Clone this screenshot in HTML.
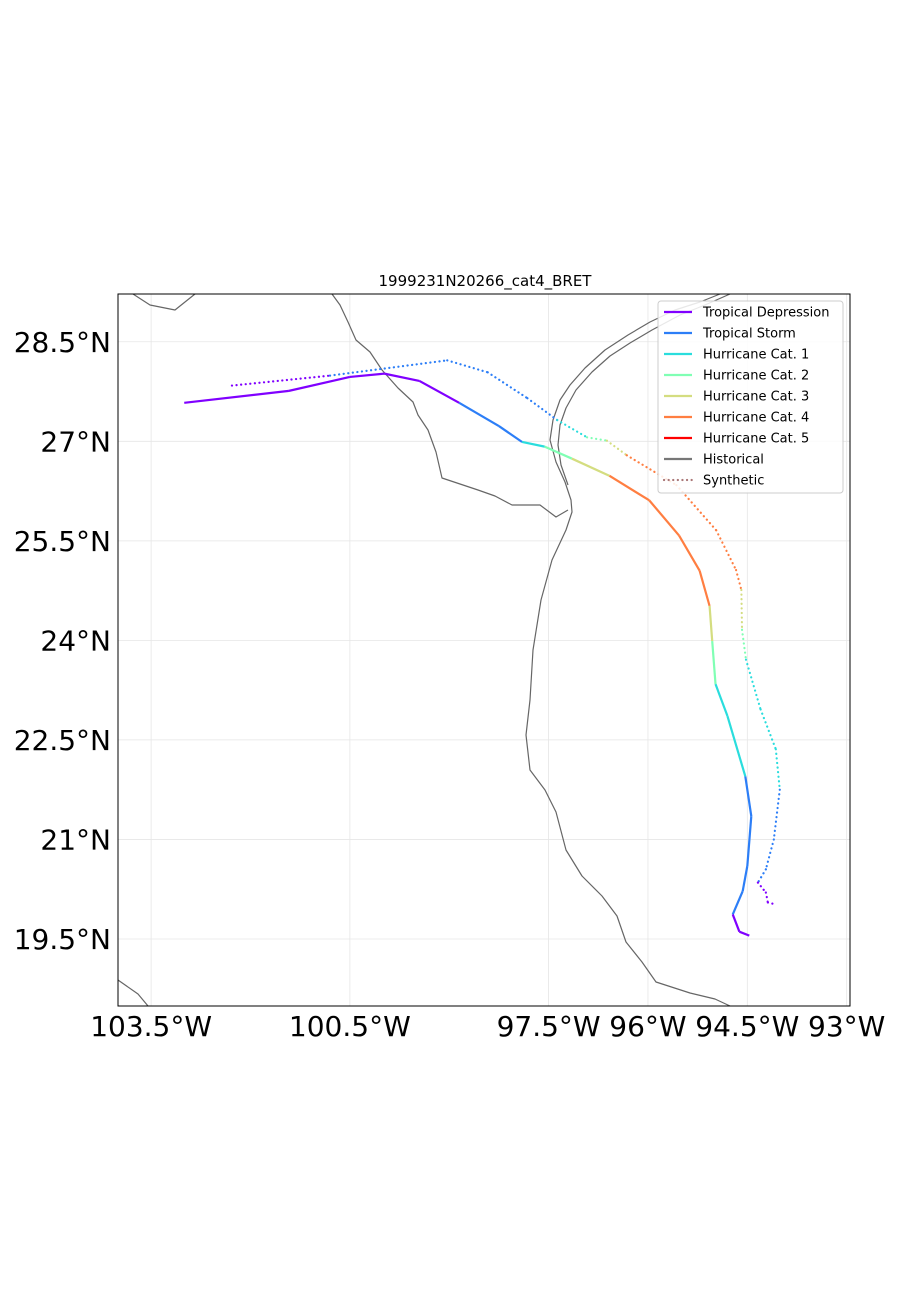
<!DOCTYPE html>
<html><head><meta charset="utf-8"><style>
body{margin:0;background:#fff;}
svg text{font-family:"DejaVu Sans","Liberation Sans",sans-serif;}
</style></head><body>
<svg id="chart" width="900" height="1300" xmlns="http://www.w3.org/2000/svg">
<rect width="900" height="1300" fill="#fff"/>
<text x="485" y="286" font-size="15" text-anchor="middle">1999231N20266_cat4_BRET</text>
<g id="grid"></g>
<g id="coast" fill="none" stroke="#666" stroke-width="1.2" stroke-linejoin="round">
<path d="M720,294 L700,302 L675,310 L650,322 L628,335 L605,350 L585,368 L570,385 L560,400 L553,420 L550,440 L556,462 L565,482 L571,500 L572,512 L566,530 L552,560 L541,600 L533,650 L530,700 L526,735 L530,770 L545,790 L556,812 L566,850 L582,876 L602,896 L617,916 L626,942 L642,962 L656,982 L690,993 L715,999 L730,1006"/>
<path d="M730,294 L705,305 L680,315 L652,330 L630,343 L610,356 L592,372 L576,390 L566,408 L560,425 L558,445 L561,465 L568,485"/>
<path d="M332,294 L340,305 L348,322 L356,340 L370,352 L382,370 L398,388 L413,402 L418,415 L428,430 L436,452 L442,478 L460,484 L478,490 L495,496 L512,505 L540,505 L556,517 L568,510"/>
<path d="M133,294 L150,305 L175,310 L195,294"/>
<path d="M118,980 L138,994 L148,1006"/>
</g>
<g id="tracks"></g>
<rect x="118" y="294" width="732" height="712" fill="none" stroke="#000" stroke-width="1"/>
<g id="axes"></g>
<g id="legend"></g>
</svg>
<script>
const lonTicks=[-103.5,-100.5,-97.5,-96,-94.5,-93];
const lonLabels=["103.5°W","100.5°W","97.5°W","96°W","94.5°W","93°W"];
const latTicks=[28.5,27,25.5,24,22.5,21,19.5];
const latLabels=["28.5°N","27°N","25.5°N","24°N","22.5°N","21°N","19.5°N"];
const categories=["Tropical Depression","Tropical Storm","Hurricane Cat. 1","Hurricane Cat. 2","Hurricane Cat. 3","Hurricane Cat. 4","Hurricane Cat. 5"];
const catColors=["#8000ff","#2c7ef7","#2adddd","#80ffb4","#d4dd80","#ff7e41","#ff0000"];
const histLon=[-103.00,-101.42,-100.50,-99.98,-99.45,-98.85,-98.25,-97.90,-97.56,-97.15,-96.58,-95.98,-95.53,-95.22,-95.07,-95.03,-94.98,-94.80,-94.53,-94.44,-94.50,-94.57,-94.72,-94.62,-94.47];
const histLat=[27.58,27.76,27.97,28.02,27.91,27.58,27.23,26.99,26.92,26.74,26.48,26.11,25.58,25.05,24.52,23.99,23.34,22.86,21.95,21.35,20.60,20.22,19.87,19.61,19.55];
const histCat=[0,0,0,0,0,1,1,2,3,4,5,5,5,5,4,3,2,2,1,1,1,1,0,0,0];
const synLon=[-102.28,-100.80,-99.03,-98.42,-97.82,-97.37,-96.92,-96.62,-96.32,-95.57,-94.97,-94.67,-94.59,-94.58,-94.52,-94.30,-94.07,-94.01,-94.10,-94.22,-94.34,-94.22,-94.19,-94.07];
const synLat=[27.84,27.99,28.22,28.04,27.65,27.32,27.06,27.01,26.79,26.34,25.66,25.06,24.76,24.16,23.71,22.96,22.36,21.75,21.00,20.55,20.35,20.20,20.05,20.02];
const synCat=[0,1,1,1,1,2,3,4,5,5,5,5,4,3,2,2,2,1,1,1,0,0,0,0];
const NS='http://www.w3.org/2000/svg';
const X0=118,X1=850,Y0=294,Y1=1006,LON0=-104.0,LON1=-92.95,LAT0=18.49,LAT1=29.22;
const xs=l=>X0+(l-LON0)/(LON1-LON0)*(X1-X0);
const ys=l=>Y1-(l-LAT0)/(LAT1-LAT0)*(Y1-Y0);
function mk(t,a,p){const e=document.createElementNS(NS,t);for(const k in a)e.setAttribute(k,a[k]);p.appendChild(e);return e;}
const grid=document.getElementById('grid'),axes=document.getElementById('axes');
lonTicks.forEach((v,i)=>{
 const l=mk('line',{x1:xs(v),x2:xs(v),y1:Y0,y2:Y1,stroke:'#e6e6e6','stroke-width':0.8},grid);
 
 
 const t=mk('text',{x:xs(v),y:1036,'font-size':28,'text-anchor':'middle'},axes);
 t.textContent=lonLabels[i];
 
 
});
latTicks.forEach((v,i)=>{
 const l=mk('line',{x1:X0,x2:X1,y1:ys(v),y2:ys(v),stroke:'#e6e6e6','stroke-width':0.8},grid);
 
 
 const t=mk('text',{x:111,y:ys(v)+10,'font-size':28,'text-anchor':'end'},axes);
 t.textContent=latLabels[i];
 
 
});
const tracks=document.getElementById('tracks');
function drawTrack(lon,lat,cat,dotted,name){
 for(let i=0;i<lon.length-1;i++){
  const a={x1:xs(lon[i]),y1:ys(lat[i]),x2:xs(lon[i+1]),y2:ys(lat[i+1]),stroke:catColors[cat[i]],'stroke-width':2.2,'stroke-linecap':dotted?'round':'butt'};
  if(dotted)a['stroke-dasharray']='0.1 4.5';
  const s=mk('line',a,tracks);
  
  
 }
}
drawTrack(histLon,histLat,histCat,false,'historical');
drawTrack(synLon,synLat,synCat,true,'synthetic');
const lg=document.getElementById('legend');
const box=mk('rect',{x:658,y:301,width:185,height:192,rx:3,fill:'#fff','fill-opacity':0.85,stroke:'#ccc'},lg);


const entries=categories.map((c,i)=>[c,catColors[i],false]).concat([["Historical","#777",false],["Synthetic","#a77",true]]);
entries.forEach((e,i)=>{
 const y=312+i*21;
 const a={x1:664,x2:692,y1:y,y2:y,stroke:e[1],'stroke-width':2.2};
 if(e[2]){a['stroke-dasharray']='0.1 4.5';a['stroke-linecap']='round';}
 const l=mk('line',a,lg);
 
 
 const t=mk('text',{x:703,y:y+4.5,'font-size':13},lg);
 t.textContent=e[0];
 
 
});
</script>
</body></html>
